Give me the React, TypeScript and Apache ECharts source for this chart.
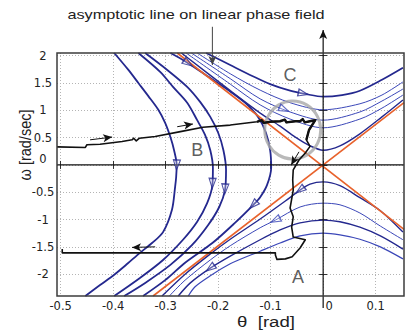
import React, { useEffect, useRef } from "react";
import * as echarts from "echarts";

type P = [number, number];

// ---------- axes ----------
const thetaTicks = [-0.5, -0.4, -0.3, -0.2, -0.1, 0, 0.1];
const omegaTicks = [-2, -1.5, -1, -0.5, 0, 0.5, 1, 1.5, 2];
const thetaRange: P = [-0.507, 0.154];
const omegaRange: P = [-2.4, 2.05];

// ---------- region B trajectories (flow downward) ----------
const curveL1: P[] = [[-0.398,2.05],[-0.371,1.74],[-0.352,1.50],[-0.333,1.26],[-0.314,1.01],[-0.301,0.77],[-0.291,0.51],[-0.284,0.27],[-0.279,0],[-0.280,-0.22],[-0.282,-0.40],[-0.288,-0.82],[-0.305,-1.23],[-0.326,-1.43],[-0.349,-1.61],[-0.373,-1.81],[-0.398,-2.01],[-0.425,-2.20],[-0.453,-2.40]];
const curveL2: P[] = [[-0.352,2.05],[-0.310,1.70],[-0.286,1.43],[-0.259,1.14],[-0.240,0.82],[-0.225,0.55],[-0.215,0.27],[-0.210,-0.05],[-0.211,-0.37],[-0.221,-0.70],[-0.240,-1.04],[-0.267,-1.37],[-0.305,-1.74],[-0.349,-2.07],[-0.398,-2.40]];
const curveL3: P[] = [[-0.339,2.05],[-0.297,1.74],[-0.259,1.43],[-0.234,1.15],[-0.215,0.88],[-0.200,0.59],[-0.190,0.27],[-0.185,-0.09],[-0.187,-0.46],[-0.198,-0.77],[-0.219,-1.10],[-0.250,-1.47],[-0.291,-1.83],[-0.339,-2.16],[-0.379,-2.40]];
const curveL4: P[] = [[-0.291,2.05],[-0.263,1.90],[-0.215,1.59],[-0.181,1.37],[-0.149,1.14],[-0.124,0.88],[-0.109,0.59],[-0.101,0.27],[-0.099,-0.05],[-0.107,-0.37],[-0.120,-0.59],[-0.133,-0.73],[-0.168,-1.06],[-0.211,-1.43],[-0.263,-1.79],[-0.301,-2.11],[-0.343,-2.40]];

// ---------- region C trajectories (flow rightward) ----------
const curveC1: P[] = [[-0.223,2.05],[-0.177,1.83],[-0.135,1.63],[-0.101,1.48],[-0.063,1.36],[-0.034,1.30],[0,1.25],[0.036,1.28],[0.070,1.36],[0.112,1.56],[0.152,1.78]];
const curveC2: P[] = [[-0.240,2.05],[-0.177,1.67],[-0.120,1.37],[-0.063,1.14],[0,1.01],[0.070,1.12],[0.112,1.28],[0.152,1.52]];
const curveC3: P[] = [[-0.251,2.05],[-0.177,1.58],[-0.120,1.21],[-0.063,0.97],[0,0.82],[0.070,0.97],[0.112,1.17],[0.152,1.39]];
const curveC4: P[] = [[-0.261,2.05],[-0.177,1.48],[-0.120,1.10],[-0.063,0.84],[0,0.68],[0.070,0.84],[0.112,1.04],[0.152,1.28]];
const curveC5: P[] = [[-0.270,2.05],[-0.177,1.36],[-0.120,0.95],[-0.082,0.71],[-0.053,0.51],[-0.025,0.35],[0,0.27],[0.032,0.35],[0.070,0.57],[0.112,0.88],[0.152,1.19]];

// ---------- region A trajectories (flow leftward) ----------
const curveA1: P[] = [[0.152,-1.23],[0.109,-0.84],[0.070,-0.60],[0.032,-0.38],[0,-0.31],[-0.025,-0.35],[-0.044,-0.46],[-0.072,-0.66],[-0.120,-0.99],[-0.177,-1.36],[-0.215,-1.63],[-0.263,-2.00],[-0.307,-2.40]];
const curveA2: P[] = [[0.152,-1.37],[0.109,-1.12],[0.070,-0.88],[0.032,-0.73],[0,-0.70],[-0.044,-0.77],[-0.091,-1.01],[-0.120,-1.15],[-0.177,-1.48],[-0.215,-1.74],[-0.263,-2.11],[-0.293,-2.40]];
const curveA3: P[] = [[0.152,-1.54],[0.109,-1.30],[0.070,-1.14],[0.032,-1.04],[0,-1.01],[-0.044,-1.06],[-0.082,-1.19],[-0.120,-1.37],[-0.177,-1.67],[-0.215,-1.89],[-0.253,-2.16],[-0.276,-2.40]];
const curveA4: P[] = [[0.152,-1.72],[0.109,-1.50],[0.070,-1.36],[0.032,-1.28],[0,-1.25],[-0.044,-1.30],[-0.082,-1.43],[-0.120,-1.58],[-0.177,-1.81],[-0.215,-2.03],[-0.244,-2.23],[-0.257,-2.40]];

// ---------- linear asymptotes ----------
const asymptoteRising: P[] = [[-0.324, -2.40], [0.154, 1.14]];
const asymptoteFalling: P[] = [[-0.278, 2.05], [0.154, -1.18]];

// ---------- measured trajectory ----------
const trajectory: P[] = [[-0.507,0.33],[-0.453,0.32],[-0.450,0.37],[-0.425,0.38],[-0.383,0.43],[-0.364,0.46],[-0.361,0.49],[-0.356,0.44],[-0.350,0.49],[-0.320,0.52],[-0.272,0.61],[-0.229,0.69],[-0.177,0.73],[-0.126,0.79],[-0.117,0.82],[-0.113,0.77],[-0.101,0.79],[-0.082,0.80],[-0.073,0.83],[-0.070,0.78],[-0.053,0.80],[-0.044,0.80],[-0.039,0.84],[-0.035,0.78],[-0.021,0.81],[-0.015,0.82],[-0.027,0.64],[-0.032,0.46],[-0.025,0.34],[-0.034,0.22],[-0.046,0.09],[-0.057,-0.09],[-0.058,-0.27],[-0.057,-0.46],[-0.063,-0.79],[-0.057,-0.95],[-0.060,-1.14],[-0.057,-1.32],[-0.034,-1.37],[-0.044,-1.52],[-0.059,-1.68],[-0.072,-1.72],[-0.088,-1.73],[-0.091,-1.65],[-0.091,-1.61],[-0.497,-1.61],[-0.497,-1.54]];
// thicker, barbed stretch of the trajectory inside region C
const trajectoryBold: P[] = [[-0.126,0.79],[-0.117,0.82],[-0.113,0.77],[-0.101,0.79],[-0.082,0.80],[-0.073,0.83],[-0.070,0.78],[-0.053,0.80],[-0.044,0.80],[-0.039,0.84],[-0.035,0.78],[-0.021,0.81],[-0.015,0.82],[-0.027,0.64],[-0.032,0.46]];

// small black direction arrows along the trajectory [from, to]
const trajectoryArrows: [P, P][] = [
  [[-0.444, 0.46], [-0.402, 0.51]],
  [[-0.278, 0.70], [-0.248, 0.75]],
  [[-0.320, -1.50], [-0.364, -1.51]],
  [[-0.046, 0.24], [-0.061, 0.0]],
];

const omegaAxisLine: P[] = [[0, -2.62], [0, 2.47]];
const thetaAxisLine: P[] = [[-0.507, 0], [0.154, 0]];
const calloutLine: P[] = [[-0.211, 2.53], [-0.211, 1.83]];
const focusCircle: P = [-0.058, 0.64];

const regionNames = ["A", "B", "C"];
const regionPositions: P[] = [[-0.048, -2.05], [-0.240, 0.27], [-0.063, 1.65]];

// flow arrows: curve name, segment index, fraction along segment
const flowArrows: [string, number, number][] = [
  ["L1", 8, 0], ["L2", 7, 0.9], ["L3", 7, 0.95], ["L4", 11, 0], ["L4", 1, 0.12],
  ["C1", 4, 0.87], ["C3", 2, 0.8],
  ["A1", 6, 0], ["A2", 6, 0], ["A3", 9, 0],
];

const curves: Record<string, P[]> = {
  L1: curveL1, L2: curveL2, L3: curveL3, L4: curveL4,
  C1: curveC1, C2: curveC2, C3: curveC3, C4: curveC4, C5: curveC5,
  A1: curveA1, A2: curveA2, A3: curveA3, A4: curveA4,
};

// ---------- styling ----------
const GRID = { left: 57, top: 53, width: 347, height: 243 };
const SX = GRID.width / (thetaRange[1] - thetaRange[0]);
const SY = GRID.height / (omegaRange[1] - omegaRange[0]);
const DARK_BLUE = "#24288e";
const LIGHT_BLUE = "#3b47b8";
const ORANGE = "#e8622c";
const curveStyle: Record<string, { color: string; width: number }> = {
  L1: { color: DARK_BLUE, width: 1.8 }, L2: { color: DARK_BLUE, width: 1.8 },
  L3: { color: DARK_BLUE, width: 1.8 }, L4: { color: DARK_BLUE, width: 1.8 },
  C1: { color: DARK_BLUE, width: 1.7 }, C2: { color: LIGHT_BLUE, width: 1 },
  C3: { color: LIGHT_BLUE, width: 1 }, C4: { color: LIGHT_BLUE, width: 1 },
  C5: { color: DARK_BLUE, width: 1.4 },
  A1: { color: DARK_BLUE, width: 1.4 }, A2: { color: LIGHT_BLUE, width: 1 },
  A3: { color: DARK_BLUE, width: 1.4 }, A4: { color: LIGHT_BLUE, width: 1.2 },
};

function screenRotation(a: P, b: P) {
  const dx = (b[0] - a[0]) * SX;
  const dy = -(b[1] - a[1]) * SY;
  return (Math.atan2(-dx, -dy) * 180) / Math.PI;
}

const LABEL_FONT = "DejaVu Sans";
const TEXT_FONT = "Liberation Sans";

export default function App() {
  const ref = useRef<HTMLDivElement>(null);
  useEffect(() => {
    if (!ref.current) return;
    const chart = echarts.init(ref.current, undefined, { renderer: "svg" });

    const curveSeries = Object.keys(curves).map((k) => ({
      type: "line",
      name: k,
      data: curves[k],
      showSymbol: false,
      symbol: "none",
      smooth: 0.3,
      silent: true,
      z: 3,
      lineStyle: { color: curveStyle[k].color, width: curveStyle[k].width },
    }));

    const arrowData = flowArrows.map(([k, seg, t]) => {
      const c = curves[k];
      const a = c[seg];
      const b = c[seg + 1];
      return {
        value: [a[0] + (b[0] - a[0]) * t, a[1] + (b[1] - a[1]) * t],
        symbolRotate: screenRotation(a, b),
        itemStyle: { borderColor: curveStyle[k].color },
      };
    });

    const blackArrowSeries = (seg: P[], color: string, width: number, z: number) => ({
      type: "line",
      data: [
        { value: seg[0], symbol: "none" },
        { value: seg[1], symbol: "arrow", symbolSize: [6, 9], symbolRotate: screenRotation(seg[0], seg[1]) },
      ],
      showSymbol: true,
      clip: false,
      silent: true,
      z,
      lineStyle: { color, width },
      itemStyle: { color },
    });

    chart.setOption({
      animation: false,
      backgroundColor: "#ffffff",
      grid: {
        ...GRID,
        show: true,
        borderColor: "#3c3c3c",
        borderWidth: 1.5,
        backgroundColor: "transparent",
        z: 10,
      },
      xAxis: [
        {
          type: "value",
          min: thetaRange[0],
          max: thetaRange[1],
          axisLine: { show: false },
          axisTick: { show: true, inside: true, length: 4, lineStyle: { color: "#333" }, customValues: thetaTicks },
          splitLine: { show: true, lineStyle: { color: "#b4b4b4", type: [1, 2], width: 1 } },
          axisLabel: {
            customValues: thetaTicks,
            margin: 4,
            fontFamily: LABEL_FONT,
            fontSize: 11.5,
            color: "#222",
            formatter: (v: number) => (v === 0 ? "{z|0}" : String(v)),
            rich: { z: { padding: [0, 0, 0, 12], fontFamily: LABEL_FONT, fontSize: 11.5, color: "#222" } },
          },
        },
        {
          type: "value",
          position: "top",
          min: thetaRange[0],
          max: thetaRange[1],
          axisLine: { show: false },
          axisTick: { show: true, inside: true, length: 4, lineStyle: { color: "#333" }, customValues: thetaTicks },
          axisLabel: { show: false, customValues: thetaTicks },
          splitLine: { show: false },
        },
      ],
      yAxis: [
        {
          type: "value",
          min: omegaRange[0],
          max: omegaRange[1],
          axisLine: { show: false },
          axisTick: { show: true, inside: true, length: 4, lineStyle: { color: "#333" }, customValues: omegaTicks },
          splitLine: { show: true, lineStyle: { color: "#b4b4b4", type: [1, 2], width: 1 } },
          axisLabel: {
            customValues: omegaTicks,
            margin: 14,
            align: "center",
            fontFamily: LABEL_FONT,
            fontSize: 11.5,
            color: "#222",
            formatter: (v: number) => (v === 0 ? "{z|0}" : String(v)),
            rich: { z: { padding: [0, 0, 12, 0], fontFamily: LABEL_FONT, fontSize: 11.5, color: "#222" } },
          },
        },
        {
          type: "value",
          position: "right",
          min: omegaRange[0],
          max: omegaRange[1],
          axisLine: { show: false },
          axisTick: { show: true, inside: true, length: 4, lineStyle: { color: "#333" }, customValues: omegaTicks },
          axisLabel: { show: false, customValues: omegaTicks },
          splitLine: { show: false },
        },
      ],
      graphic: [
        {
          type: "text",
          x: 196,
          y: 15,
          scaleX: 1.25,
          style: {
            text: "asymptotic line on linear phase field",
            fontFamily: TEXT_FONT,
            fontSize: 13,
            fill: "#222",
            align: "center",
            verticalAlign: "middle",
          },
        },
        {
          type: "text",
          x: 25,
          y: 145,
          rotation: Math.PI / 2,
          scaleY: 1.2,
          style: {
            text: "ω [rad/sec]",
            fontFamily: TEXT_FONT,
            fontSize: 14.5,
            fill: "#222",
            align: "center",
            verticalAlign: "middle",
          },
        },
        {
          type: "text",
          x: 266,
          y: 322,
          scaleX: 1.2,
          style: {
            text: "θ  [rad]",
            fontFamily: TEXT_FONT,
            fontSize: 15.5,
            fill: "#222",
            align: "center",
            verticalAlign: "middle",
          },
        },
      ],
      series: [
        ...curveSeries,
        {
          type: "line",
          data: asymptoteRising,
          showSymbol: false,
          symbol: "none",
          silent: true,
          z: 4,
          lineStyle: { color: ORANGE, width: 1.6 },
        },
        {
          type: "line",
          data: asymptoteFalling,
          showSymbol: false,
          symbol: "none",
          silent: true,
          z: 4,
          lineStyle: { color: ORANGE, width: 1.6 },
        },
        {
          type: "line",
          data: thetaAxisLine,
          showSymbol: false,
          symbol: "none",
          silent: true,
          z: 5,
          lineStyle: { color: "#111", width: 1.2 },
        },
        blackArrowSeries(omegaAxisLine, "#111", 1.2, 5),
        blackArrowSeries(calloutLine, "#444", 1, 5),
        ...trajectoryArrows.map((s) => blackArrowSeries(s, "#111", 1, 7)),
        {
          type: "scatter",
          data: [focusCircle],
          symbol: "circle",
          symbolSize: [56, 58],
          silent: true,
          z: 5,
          itemStyle: { color: "rgba(0,0,0,0)", borderColor: "#a8a8a8", borderWidth: 3 },
        },
        {
          type: "line",
          data: trajectory,
          showSymbol: false,
          symbol: "none",
          silent: true,
          z: 6,
          lineStyle: { color: "#111", width: 1.6, join: "round" },
        },
        {
          type: "line",
          data: trajectoryBold,
          showSymbol: false,
          symbol: "none",
          silent: true,
          z: 6,
          lineStyle: { color: "#111", width: 2.4, join: "round" },
        },
        {
          type: "scatter",
          data: arrowData,
          symbol: "triangle",
          symbolSize: [7, 10],
          silent: true,
          z: 8,
          itemStyle: { color: "rgba(255,255,255,0.35)", borderWidth: 1.2 },
        },
        {
          type: "scatter",
          data: regionNames.map((n, i) => ({ name: n, value: regionPositions[i] })),
          symbolSize: 0,
          silent: true,
          z: 9,
          label: {
            show: true,
            position: "inside",
            formatter: "{b}",
            fontFamily: TEXT_FONT,
            fontSize: 18,
            color: "#333",
          },
        },
      ],
    });
    return () => chart.dispose();
  }, []);
  return <div ref={ref} style={{ position: "fixed", left: 0, top: 0, width: 411, height: 332 }} />;
}
